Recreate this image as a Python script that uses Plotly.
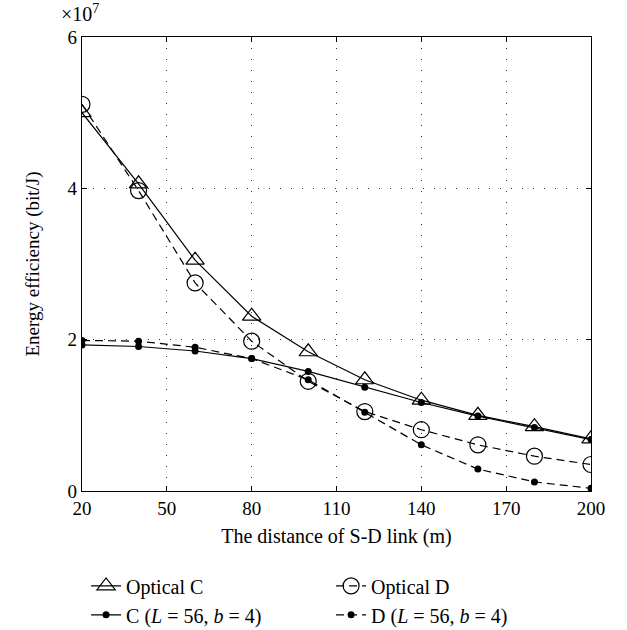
import plotly.graph_objects as go

distance = [20, 40, 60, 80, 100, 120, 140, 160, 180, 200]
optical_c = [5.00, 4.06, 3.05, 2.31, 1.84, 1.47, 1.20, 1.00, 0.85, 0.69]
optical_d = [5.11, 3.97, 2.75, 1.98, 1.45, 1.05, 0.81, 0.61, 0.46, 0.35]
c_l56 = [1.93, 1.91, 1.85, 1.75, 1.58, 1.37, 1.17, 0.99, 0.84, 0.68]
d_l56 = [1.99, 1.98, 1.90, 1.75, 1.47, 1.04, 0.61, 0.29, 0.12, 0.035]

x_ticks = [20, 50, 80, 110, 140, 170, 200]
y_ticks = [0, 2, 4, 6]

FONT = "Liberation Serif"
DASH = "8px,5px"

fig = go.Figure()
fig.add_trace(go.Scatter(
    x=distance, y=optical_c, name="Optical C", mode="lines+markers",
    line=dict(color="black", width=1.2),
    marker=dict(symbol="triangle-up-open", size=16, color="black", line=dict(width=1.2))))
fig.add_trace(go.Scatter(
    x=distance, y=optical_d, name="Optical D", mode="lines+markers",
    line=dict(color="black", width=1.2, dash=DASH),
    marker=dict(symbol="circle-open", size=16, color="black", line=dict(width=1.2))))
fig.add_trace(go.Scatter(
    x=distance, y=c_l56, name="C (<i>L</i> = 56, <i>b</i> = 4)", mode="lines+markers",
    line=dict(color="black", width=1.2),
    marker=dict(symbol="circle", size=7, color="black")))
fig.add_trace(go.Scatter(
    x=distance, y=d_l56, name="D (<i>L</i> = 56, <i>b</i> = 4)", mode="lines+markers",
    line=dict(color="black", width=1.2, dash=DASH),
    marker=dict(symbol="circle", size=7, color="black")))

axis_common = dict(
    showline=True, linecolor="black", linewidth=1.2, mirror="ticks",
    ticks="inside", ticklen=5, tickcolor="black", tickwidth=1,
    showgrid=True, gridcolor="#333", gridwidth=1, griddash="1px,10px",
    zeroline=False, tickfont=dict(family=FONT, size=19, color="black"),
)

fig.update_xaxes(
    range=[20, 200], tickvals=x_ticks, ticktext=[str(v) for v in x_ticks],
    title=dict(text="The distance of S-D link (m)", font=dict(family=FONT, size=20, color="black"), standoff=11),
    **axis_common)
fig.update_yaxes(
    range=[0, 6], tickvals=y_ticks, ticktext=[str(v) for v in y_ticks],
    title=dict(text="Energy efficiency (bit/J)", font=dict(family=FONT, size=19, color="black"), standoff=22),
    **axis_common)

fig.add_annotation(
    xref="paper", yref="paper", x=-0.045, y=1.0, xanchor="left", yanchor="bottom",
    yshift=10, text="×10<sup>7</sup>", showarrow=False,
    font=dict(family=FONT, size=20, color="black"))

fig.update_layout(
    width=627, height=630,
    margin=dict(l=82, r=36, t=37, b=139, autoexpand=False),
    paper_bgcolor="white", plot_bgcolor="white",
    font=dict(family=FONT, color="black"),
    showlegend=True,
    legend=dict(
        orientation="h", x=0.008, xanchor="left", y=-0.166, yanchor="top",
        entrywidth=200, entrywidthmode="pixels",
        font=dict(family=FONT, size=20, color="black"),
        bgcolor="rgba(0,0,0,0)", tracegroupgap=0),
)

fig.write_html("out.html")
